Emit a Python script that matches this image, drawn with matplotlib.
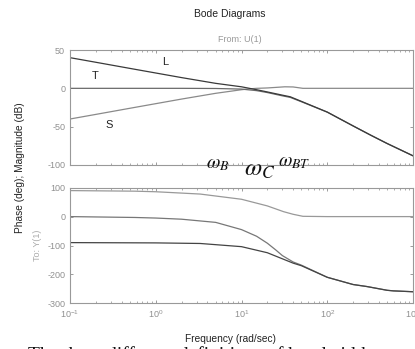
import numpy as np
import matplotlib
matplotlib.use("Agg")
import matplotlib.pyplot as plt
from matplotlib.ticker import LogLocator, NullFormatter

plt.rcParams["font.family"] = ["Liberation Sans", "DejaVu Sans"]
plt.rcParams["axes.unicode_minus"] = False

# magnitude (dB)
w_L = [0.1, 0.2, 0.5, 1, 2, 5, 10, 15, 20, 30, 37, 50, 100, 200, 320, 500, 1000]
mag_L = [40, 34, 26, 20, 14, 6.5, 2, -1.8, -4.7, -8.9, -11, -17, -31, -49, -61, -72, -88]

w_T = [0.1, 1, 2, 5, 10, 15, 20, 30, 37, 50, 100, 200, 320, 500, 1000]
mag_T = [0, 0, 0, -0.2, -1, -3, -5.5, -9.8, -11.8, -17.5, -31, -49, -61, -72, -88]

w_S = [0.1, 0.2, 0.5, 1, 2, 5, 10, 12.6, 15, 20, 25, 32, 40, 52, 100, 1000]
mag_S = [-40, -34, -26, -20, -14, -6.5, -1.8, -0.6, 0, 0.5, 1.2, 2, 1.8, 0, 0, 0]

# phase (deg)
ph_w_L = [0.1, 1, 3.3, 10, 20, 40, 50, 100, 200, 290, 500, 590, 1000]
ph_L = [-90, -91, -93, -104, -125, -161, -170, -210, -235, -242, -255, -257, -260]

ph_w_T = [0.1, 0.57, 1, 2, 5, 10, 15, 20, 25, 30, 40, 50, 100, 200, 290, 500, 590, 1000]
ph_T = [0, -3, -5, -9, -20, -45, -68, -92, -115, -135, -157, -168, -210, -235, -242, -255, -257, -260]

ph_w_S = [0.1, 0.57, 1, 3.3, 10, 20, 31, 40, 52, 100, 1000]
ph_S = [90, 88, 86, 78, 60, 37, 17, 8, 1, 0, 0]

W, H = 415, 349
fig = plt.figure(figsize=(W / 100, H / 100), dpi=100)


def fx(x):
    return x / W


def fy(y):
    return 1 - y / H


ax1 = fig.add_axes([fx(70), fy(165), 343 / W, 115 / H])
ax2 = fig.add_axes([fx(70), fy(303.3), 343 / W, 115.6 / H])

gray = "#8c8c8c"
for ax in (ax1, ax2):
    ax.set_xscale("log")
    ax.set_xlim(0.1, 1000)
    ax.xaxis.set_major_locator(LogLocator(base=10, numticks=10))
    ax.xaxis.set_minor_locator(LogLocator(base=10, subs=np.arange(2, 10), numticks=20))
    ax.xaxis.set_minor_formatter(NullFormatter())
    ax.tick_params(which="both", direction="in", top=True, right=True,
                   colors=gray, labelsize=6.5, labelcolor="#909090")
    ax.tick_params(which="major", length=2.5, width=0.6)
    ax.tick_params(which="minor", length=1.5, width=0.5)
    for s in ax.spines.values():
        s.set_color("#999999")
        s.set_linewidth(0.8)

ax1.set_ylim(-100, 50)
ax1.set_yticks([-100, -50, 0, 50])
ax1.tick_params(labelbottom=False)
ax1.semilogx(w_S, mag_S, color="#8a8a8a", lw=0.9)
ax1.semilogx(w_T, mag_T, color="#6a6a6a", lw=0.9)
ax1.semilogx(w_L, mag_L, color="#3a3a3a", lw=0.9)

ax2.set_ylim(-300, 100)
ax2.set_yticks([-300, -200, -100, 0, 100])
ax2.semilogx(ph_w_S, ph_S, color="#999999", lw=0.9)
ax2.semilogx(ph_w_T, ph_T, color="#777777", lw=0.9)
ax2.semilogx(ph_w_L, ph_L, color="#444444", lw=0.9)

fig.text(fx(230), fy(14), "Bode Diagrams", ha="center", va="center", fontsize=7.5, color="#222222")
fig.text(fx(240), fy(40), "From: U(1)", ha="center", va="center", fontsize=6.5, color="#999999")
fig.text(fx(20), fy(168), "Phase (deg); Magnitude (dB)", rotation=90,
         ha="center", va="center", fontsize=7.3, color="#222222")
fig.text(fx(37), fy(245), "To: Y(1)", rotation=90, ha="center", va="center",
         fontsize=6.5, color="#aaaaaa")
fig.text(fx(230), fy(339), "Frequency (rad/sec)", ha="center", va="center",
         fontsize=7.3, color="#222222")

fig.text(fx(165), fy(62), "L", ha="center", va="center", fontsize=8, color="#222222")
fig.text(fx(95), fy(76), "T", ha="center", va="center", fontsize=8, color="#222222")
fig.text(fx(109), fy(125), "S", ha="center", va="center", fontsize=8, color="#222222")

fig.text(fx(218), fy(165), r"$\omega_B$", ha="center", va="center", fontsize=14,
         math_fontfamily="stix", color="#111111")
fig.text(fx(260), fy(169), r"$\omega_C$", ha="center", va="center", fontsize=18,
         math_fontfamily="stix", color="#111111")
fig.text(fx(294), fy(163), r"$\omega_{BT}$", ha="center", va="center", fontsize=14,
         math_fontfamily="stix", color="#111111")

fig.text(fx(28), fy(346.5), "The three different definitions of bandwidth", ha="left", va="top",
         fontsize=14, family="Liberation Serif", color="#111111")

fig.savefig("out.png", dpi=100)
